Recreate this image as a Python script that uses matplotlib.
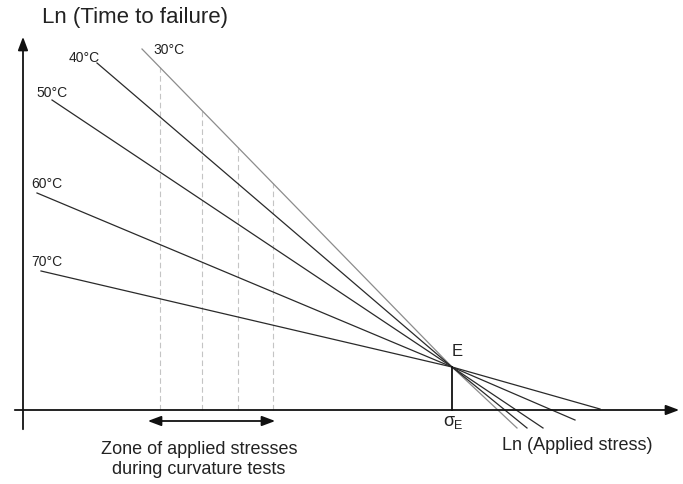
import numpy as np
import matplotlib
matplotlib.use("Agg")
import matplotlib.pyplot as plt

plt.rcParams["font.family"] = ["Liberation Sans", "DejaVu Sans"]

# schematic data (arbitrary Ln units, origin at axes crossing)
temperatures = ["30°C", "40°C", "50°C", "60°C", "70°C"]
x_start = [119, 74, 29, 14, 18]
y_start = [361, 347, 310, 217, 139]
x_end = [494, 504, 520, 552, 577]
y_end = [-18, -18, -18, -10, 1]
E_point = (429, 43)
zone_x = [137, 179, 215, 250]
zone_arrow = (122, 255)
line_colors = ["#8c8c8c", "#2a2a2a", "#2a2a2a", "#2a2a2a", "#2a2a2a"]
label_pos = [(146, 360), (61, 352), (29, 317), (24, 226), (24, 148)]

fig = plt.figure(figsize=(6.83, 4.84), dpi=100)
ax = fig.add_axes([0, 0, 1, 1])
ax.set_xlim(-23, 660)
ax.set_ylim(-74, 410)
ax.axis("off")

# axes with arrows
ax.annotate("", xy=(0, 376), xytext=(0, -22), annotation_clip=False,
            arrowprops=dict(arrowstyle="-|>,head_length=0.8,head_width=0.3", lw=1.3, color="#111111"))
ax.annotate("", xy=(659, 0), xytext=(-11, 0), annotation_clip=False,
            arrowprops=dict(arrowstyle="-|>,head_length=0.8,head_width=0.3", lw=1.3, color="#111111"))

# dashed lines of the zone, up to the 30C line
for xz in zone_x:
    ytop = np.interp(xz, [x_start[0], E_point[0]], [y_start[0], E_point[1]])
    ax.plot([xz, xz], [0, ytop], color="#c4c4c4", lw=0.8, ls=(0, (5, 3)), zorder=1)

# temperature lines through E
for i, t in enumerate(temperatures):
    ax.plot([x_start[i], E_point[0], x_end[i]], [y_start[i], E_point[1], y_end[i]],
            color=line_colors[i], lw=0.9, zorder=2)
    ax.text(label_pos[i][0], label_pos[i][1], t, fontsize=10, ha="center", va="center", color="#222222")

ax.plot([E_point[0], E_point[0]], [0, E_point[1]], color="#111111", lw=1.3)
ax.text(E_point[0] + 5, E_point[1] + 15, "E", fontsize=12, ha="center", va="center", color="#222222")
ax.text(E_point[0] - 3, -11, "σ", fontsize=13, ha="center", va="center", color="#222222")
ax.text(E_point[0] + 6, -16, "E", fontsize=9, ha="center", va="center", color="#222222")

# zone arrow
ax.annotate("", xy=(zone_arrow[0], -11), xytext=(zone_arrow[1], -11),
            arrowprops=dict(arrowstyle="<|-|>,head_length=0.8,head_width=0.3", lw=1.3, color="#111111"))
ax.text(176, -40, "Zone of applied stresses", fontsize=13, ha="center", va="center", color="#222222")
ax.text(176, -60, "during curvature tests", fontsize=13, ha="center", va="center", color="#222222")

ax.text(19, 392, "Ln (Time to failure)", fontsize=16, ha="left", va="center", color="#222222")
ax.text(479, -35, "Ln (Applied stress)", fontsize=13, ha="left", va="center", color="#222222")

fig.savefig("out.png", dpi=100)
